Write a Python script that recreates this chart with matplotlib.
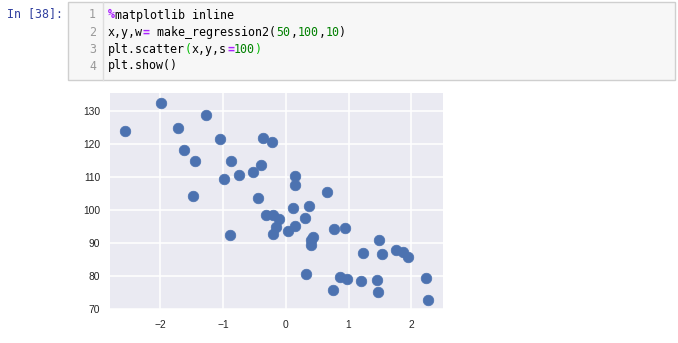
import matplotlib
matplotlib.use("Agg")
import matplotlib.pyplot as plt
from matplotlib.patches import Rectangle

# scatter points
xs = [-2.56, -1.99, -1.71, -1.27, -1.62, -1.05, -1.44, -0.87, -0.98, -0.75,
      -0.52, -0.40, -1.47, -0.44, -0.36, -0.22, 0.15, 0.15, 0.65, 0.12,
      0.37, 0.31, -0.31, -0.20, -0.10, -0.16, -0.21, 0.04, 0.15, 0.44,
      0.40, 0.40, 0.77, 0.95, 1.49, 1.23, 1.53, 1.75, 1.87, 1.95,
      0.32, 0.86, 0.97, 1.20, 1.45, 1.47, 0.76, 2.24, 2.26, -0.89]
ys = [123.9, 132.4, 124.8, 128.9, 118.3, 121.5, 114.8, 114.8, 109.3, 110.5,
      111.6, 113.8, 104.2, 103.8, 122.0, 120.6, 110.2, 107.5, 105.4, 100.6,
      101.1, 97.7, 98.5, 98.5, 97.2, 94.9, 92.6, 93.7, 95.2, 91.9,
      90.9, 89.4, 94.2, 94.5, 91.0, 87.0, 86.7, 87.9, 87.4, 85.8,
      80.5, 79.8, 79.2, 78.5, 78.8, 75.1, 75.9, 79.4, 72.7, 92.5]
xticks = [-2, -1, 0, 1, 2]
yticks = [70, 80, 90, 100, 110, 120, 130]

# code cell, each line split into (text, colour) pieces
code_lines = [
    [("%", "#AA22FF"), ("matplotlib inline", "#000000")],
    [("x,y,w", "#000000"), ("=", "#AA22FF"), (" make_regression2(", "#000000"),
     ("50", "#008000"), (",", "#000000"), ("100", "#008000"), (",", "#000000"),
     ("10", "#008000"), (")", "#000000")],
    [("plt.scatter", "#000000"), ("(", "#00BB00"), ("x,y,s", "#000000"),
     ("=", "#AA22FF"), ("100", "#008000"), (")", "#00BB00")],
    [("plt.show()", "#000000")],
]

W, H = 678, 343
fig = plt.figure(figsize=(W / 100, H / 100), dpi=100)
fig.patch.set_facecolor("white")

def fx(px):
    return px / W

def fy(py):
    return 1 - py / H

mono = "DejaVu Sans Mono"
fs = 8.4
cw = 0.602 * fs * 100 / 72  # char width in px

# cell box
fig.patches.append(Rectangle((fx(68), fy(80)), fx(675) - fx(68), fy(2) - fy(80),
                             transform=fig.transFigure, facecolor="#F7F7F7",
                             edgecolor="#CFCFCF", lw=1))
fig.add_artist(plt.Line2D([fx(102.5), fx(102.5)], [fy(80), fy(2)],
                          transform=fig.transFigure, color="#DDDDDD", lw=1))
fig.text(fx(7), fy(14), "In [38]:", family=mono, fontsize=fs, color="#303F9F",
         va="center", ha="left")

line_y = [15, 32.3, 49.3, 66]
for i, pieces in enumerate(code_lines):
    fig.text(fx(96), fy(line_y[i]), str(i + 1), family=mono, fontsize=fs,
             color="#999999", va="center", ha="right")
    n = 0
    for txt, col in pieces:
        weight = "bold" if col == "#AA22FF" else "normal"
        fig.text(fx(107.7 + n * cw), fy(line_y[i]), txt, family=mono, fontsize=fs,
                 color=col, va="center", ha="left", weight=weight)
        n += len(txt)

# scatter plot, seaborn darkgrid look
ax = fig.add_axes([fx(110), fy(309), fx(443.3) - fx(110), fy(93) - fy(309)])
ax.set_facecolor("#EAEAF2")
ax.grid(True, color="white", lw=1.1)
ax.set_axisbelow(True)
for s in ax.spines.values():
    s.set_visible(False)
ax.scatter(xs, ys, s=58, color="#4C72B0", edgecolors="#4C72B0", linewidths=0.5)
ax.set_xlim(-2.80, 2.51)
ax.set_ylim(70, 135.5)
ax.set_xticks(xticks)
ax.set_yticks(yticks)
ax.set_xticklabels(["\u2212" + str(-t) if t < 0 else str(t) for t in xticks])
ax.tick_params(length=0, labelsize=7.4, labelcolor="#262626", pad=7)
for lab in ax.get_xticklabels() + ax.get_yticklabels():
    lab.set_family("Liberation Sans")
ax.tick_params(axis="x", pad=8)

fig.savefig("out.png", dpi=100)
